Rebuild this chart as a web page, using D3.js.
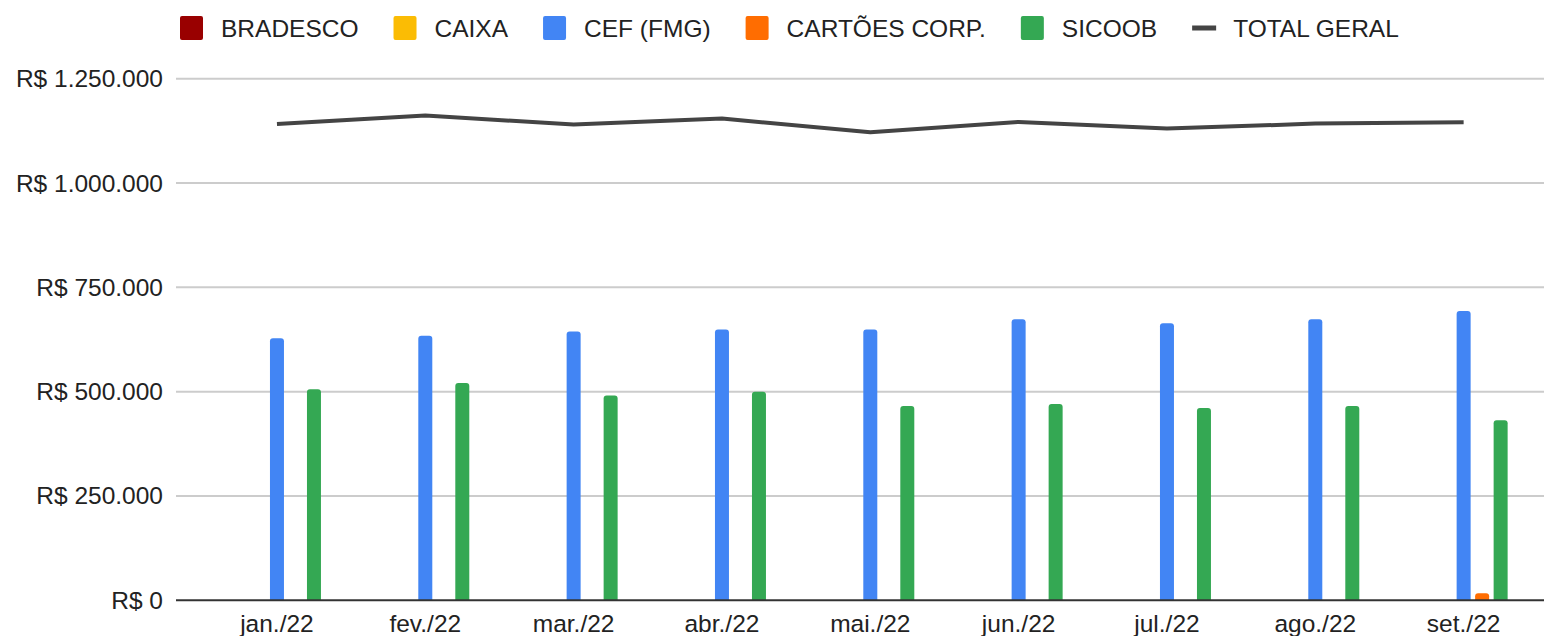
<!DOCTYPE html>
<html>
<head>
<meta charset="utf-8">
<script src="https://cdn.jsdelivr.net/npm/d3@7"></script>
<style>
  body { margin: 0; background: #fff; }
  text { font-family: "Liberation Sans", Arial, sans-serif; fill: #222; }
</style>
</head>
<body>
<script>
'use strict';

// values (R$)
const months = ["jan./22", "fev./22", "mar./22", "abr./22", "mai./22", "jun./22", "jul./22", "ago./22", "set./22"];
const seriesNames = ["BRADESCO", "CAIXA", "CEF (FMG)", "CARTÕES CORP.", "SICOOB"];
const seriesColors = ["#990000", "#fbbc04", "#4285f4", "#ff6d01", "#34a853"];
const bradesco = [0, 0, 0, 0, 0, 0, 0, 0, 0];
const caixa = [0, 0, 0, 0, 0, 0, 0, 0, 0];
const cef = [628000, 634000, 644000, 649000, 649000, 673500, 664000, 673500, 693500];
const cartoes = [0, 0, 0, 0, 0, 0, 0, 0, 16800];
const sicoob = [506000, 521000, 490500, 500000, 465700, 470500, 461000, 465700, 431500];
const totalGeral = [1141700, 1161600, 1140000, 1154400, 1121800, 1146500, 1130400, 1142400, 1145800];
const totalName = "TOTAL GERAL";
const totalColor = "#444444";
const yTicks = [0, 250000, 500000, 750000, 1000000, 1250000];

(function() {

  let svgContainer = "";
  let width = 1544;
  let height = 636;
  let fontSize = '24.5px';

  window.onload = function() {
    svgContainer = d3.select('body')
      .append('svg')
      .attr('width', width)
      .attr('height', height);

    let map = drawAxes();
    plotBars(map);
    plotLine(map);
    makeLegend();
  }

  function fmt(v) {
    // brazilian style thousands separator
    return "R$ " + d3.format(",")(v).replace(/,/g, ".");
  }

  function drawAxes() {
    let yScale = d3.scaleLinear()
      .domain([0, 1250000])
      .range([600.3, 78.7]);

    let xScale = d3.scaleBand()
      .domain(months)
      .range([202.8, 1537.8]);

    // slot of each series inside a month, CEF sits in the middle
    let slot = d3.scalePoint()
      .domain(seriesNames)
      .range([-37, 37]);

    svgContainer.selectAll('.grid')
      .data(yTicks.filter(d => d > 0))
      .enter()
      .append('line')
      .attr('x1', 176)
      .attr('x2', width)
      .attr('y1', d => yScale(d))
      .attr('y2', d => yScale(d))
      .attr('stroke', '#cccccc')
      .attr('stroke-width', 2);

    svgContainer.selectAll('.ylab')
      .data(yTicks)
      .enter()
      .append('text')
      .attr('x', 163)
      .attr('y', d => yScale(d) + 8.5)
      .attr('text-anchor', 'end')
      .style('font-size', fontSize)
      .text(d => fmt(d));

    svgContainer.selectAll('.xlab')
      .data(months)
      .enter()
      .append('text')
      .attr('x', d => xScale(d) + xScale.bandwidth() / 2)
      .attr('y', 632)
      .attr('text-anchor', 'middle')
      .style('font-size', fontSize)
      .text(d => d);

    return {
      xScale: xScale,
      yScale: yScale,
      slot: slot
    };
  }

  function topRounded(x, y, w, h, r) {
    r = Math.min(r, h, w / 2);
    return "M" + x + "," + (y + h) +
      "V" + (y + r) +
      "Q" + x + "," + y + " " + (x + r) + "," + y +
      "H" + (x + w - r) +
      "Q" + (x + w) + "," + y + " " + (x + w) + "," + (y + r) +
      "V" + (y + h) + "Z";
  }

  function plotBars(map) {
    let allSeries = [bradesco, caixa, cef, cartoes, sicoob];
    let bars = [];
    allSeries.forEach(function(vals, s) {
      vals.forEach(function(v, i) {
        if (v > 0) bars.push({ month: months[i], name: seriesNames[s], color: seriesColors[s], value: v });
      });
    });
    let barW = 14;
    let zero = map.yScale(0);

    svgContainer.selectAll('.bar')
      .data(bars)
      .enter()
      .append('path')
      .attr('fill', d => d.color)
      .attr('d', function(d) {
        let cx = map.xScale(d.month) + map.xScale.bandwidth() / 2 + map.slot(d.name);
        let y = map.yScale(d.value);
        return topRounded(cx - barW / 2, y, barW, zero - y, 3);
      });

    // zero baseline on top of bars
    svgContainer.append('line')
      .attr('x1', 176)
      .attr('x2', width)
      .attr('y1', zero)
      .attr('y2', zero)
      .attr('stroke', '#333333')
      .attr('stroke-width', 2);
  }

  function plotLine(map) {
    let line = d3.line()
      .x((d, i) => map.xScale(months[i]) + map.xScale.bandwidth() / 2)
      .y(d => map.yScale(d));

    svgContainer.append('path')
      .datum(totalGeral)
      .attr('d', line)
      .attr('fill', 'none')
      .attr('stroke', totalColor)
      .attr('stroke-width', 4)
      .attr('stroke-linejoin', 'round');
  }

  function makeLegend() {
    let g = svgContainer.append('g');
    let x = 180;
    let items = seriesNames.map((n, i) => ({ name: n, color: seriesColors[i], kind: 'box' }));
    items.push({ name: totalName, color: totalColor, kind: 'line' });

    items.forEach(function(it) {
      if (it.kind === 'box') {
        g.append('rect')
          .attr('x', x)
          .attr('y', 16)
          .attr('width', 23)
          .attr('height', 24)
          .attr('rx', 2)
          .attr('fill', it.color);
      } else {
        g.append('rect')
          .attr('x', x)
          .attr('y', 25.5)
          .attr('width', 24)
          .attr('height', 5)
          .attr('fill', it.color);
      }
      let t = g.append('text')
        .attr('x', x + 41)
        .attr('y', 36.5)
        .style('font-size', fontSize)
        .text(it.name);
      x = x + 41 + t.node().getComputedTextLength() + 35;
    });
  }

})();
</script>
</body>
</html>
